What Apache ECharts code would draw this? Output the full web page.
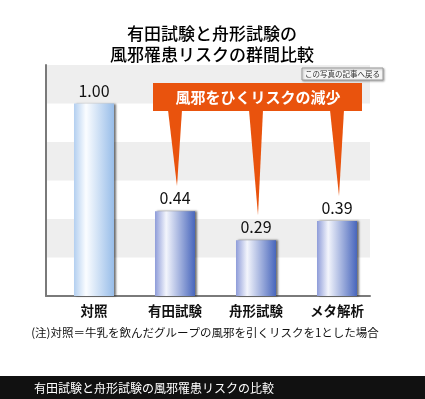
<!DOCTYPE html>
<html>
<head>
<meta charset="utf-8">
<script src="https://cdn.jsdelivr.net/npm/echarts@6/dist/echarts.min.js"></script>
<style>
  html, body { margin: 0; padding: 0; background: #fff; }
  #main { width: 425px; height: 399px; }
</style>
</head>
<body>
<div id="main"></div>
<script>
var categories = ['対照', '有田試験', '舟形試験', 'メタ解析'];
var values = [1.00, 0.44, 0.29, 0.39];
var valueLabels = ['1.00', '0.44', '0.29', '0.39'];
var spikeTargets = [1, 2, 3]; // 吹き出しの先が指す棒

var FONT = '"Noto Sans CJK JP", "Noto Sans", sans-serif';

var myChart = echarts.init(document.getElementById('main'));

function barColor(i) {
    if (i === 0) {
        return new echarts.graphic.LinearGradient(0, 0, 1, 0, [
            { offset: 0, color: '#b3cff0' },
            { offset: 0.3, color: '#fbfdff' },
            { offset: 1, color: '#98bde9' }
        ]);
    }
    return new echarts.graphic.LinearGradient(0, 0, 1, 0, [
        { offset: 0, color: '#8e9cd9' },
        { offset: 0.28, color: '#f3f5fc' },
        { offset: 1, color: '#4866bc' }
    ]);
}

var barData = values.map(function (v, i) {
    return {
        value: v,
        label: { formatter: valueLabels[i] },
        itemStyle: { color: barColor(i) }
    };
});

var option = {
    backgroundColor: '#fff',
    animation: false,
    title: {
        text: '有田試験と舟形試験の\n風邪罹患リスクの群間比較',
        left: 207,
        textAlign: 'center',
        top: 18,
        textStyle: {
            fontFamily: FONT,
            fontSize: 17,
            fontWeight: 500,
            color: '#000',
            lineHeight: 21
        }
    },
    // 枠と縞（grid 0）と棒の並び（grid 1）は少しずれている
    grid: [
        { left: 46, right: 55, top: 65, bottom: 103 },
        { left: 53.5, right: 47.5, top: 65, bottom: 103 }
    ],
    xAxis: [{
        type: 'category',
        gridIndex: 0,
        data: categories,
        axisLine: { lineStyle: { color: '#7a7a7a', width: 2 } },
        axisTick: { show: false },
        axisLabel: { show: false }
    }, {
        type: 'category',
        gridIndex: 1,
        data: categories,
        axisLine: { show: false },
        axisTick: { show: false },
        axisLabel: {
            margin: 8,
            fontFamily: FONT,
            fontSize: 13.5,
            fontWeight: 'bold',
            color: '#111'
        }
    }],
    yAxis: [{
        type: 'value',
        gridIndex: 0,
        min: 0,
        max: 1.2,
        interval: 0.2,
        axisLine: { show: true, lineStyle: { color: '#7a7a7a', width: 2 } },
        axisTick: { show: false },
        axisLabel: { show: false },
        splitLine: { show: false },
        splitArea: { show: true, areaStyle: { color: ['#ffffff', '#eeeeee'] } }
    }, {
        type: 'value',
        gridIndex: 1,
        min: 0,
        max: 1.2,
        interval: 0.2,
        show: false
    }],
    series: [{
        type: 'bar',
        xAxisIndex: 1,
        yAxisIndex: 1,
        barWidth: 40,
        data: barData,
        itemStyle: {
            shadowColor: 'rgba(0,0,0,0.55)',
            shadowOffsetX: 2,
            shadowOffsetY: 0,
            shadowBlur: 2
        },
        label: {
            show: true,
            position: 'top',
            distance: 5,
            fontFamily: FONT,
            fontSize: 16,
            color: '#111'
        }
    }]
};
myChart.setOption(option);

// 吹き出しと注記
var boxTop = 83, boxBottom = 111;
var elements = [
    {
        type: 'rect',
        shape: { x: 302, y: 68, width: 81, height: 12 },
        style: { fill: '#f6f6f6', stroke: '#9a9a9a', lineWidth: 1,
                 shadowColor: 'rgba(0,0,0,0.3)', shadowBlur: 2, shadowOffsetX: 1, shadowOffsetY: 1 }
    },
    {
        type: 'text',
        x: 342.5, y: 74,
        style: { text: 'この写真の記事へ戻る', fill: '#333', font: '7.5px ' + FONT,
                 align: 'center', verticalAlign: 'middle' }
    },
    {
        type: 'rect',
        shape: { x: 153, y: boxTop, width: 209, height: boxBottom - boxTop },
        style: { fill: '#e9530d' }
    },
    {
        type: 'text',
        x: 258, y: 97,
        style: { text: '風邪をひくリスクの減少', fill: '#fff', font: 'bold 15px ' + FONT,
                 align: 'center', verticalAlign: 'middle' }
    }
];
spikeTargets.forEach(function (i) {
    var p = myChart.convertToPixel({ seriesIndex: 0 }, [i, values[i]]);
    elements.push({
        type: 'polygon',
        shape: { points: [[p[0] - 7, boxBottom - 1], [p[0] + 7, boxBottom - 1], [p[0] + 2, p[1] - 25]] },
        style: { fill: '#e9530d' }
    });
});
elements.push(
    {
        type: 'text',
        x: 205, y: 333,
        style: { text: '(注)対照＝牛乳を飲んだグループの風邪を引くリスクを1とした場合',
                 fill: '#111', font: '11.5px ' + FONT, align: 'center', verticalAlign: 'middle' }
    },
    {
        type: 'rect',
        shape: { x: 0, y: 376, width: 425, height: 23 },
        style: { fill: '#111' }
    },
    {
        type: 'text',
        x: 34, y: 388,
        style: { text: '有田試験と舟形試験の風邪罹患リスクの比較', fill: '#fff',
                 font: '12px ' + FONT, align: 'left', verticalAlign: 'middle' }
    }
);
myChart.setOption({ graphic: { elements: elements } });
</script>
</body>
</html>
